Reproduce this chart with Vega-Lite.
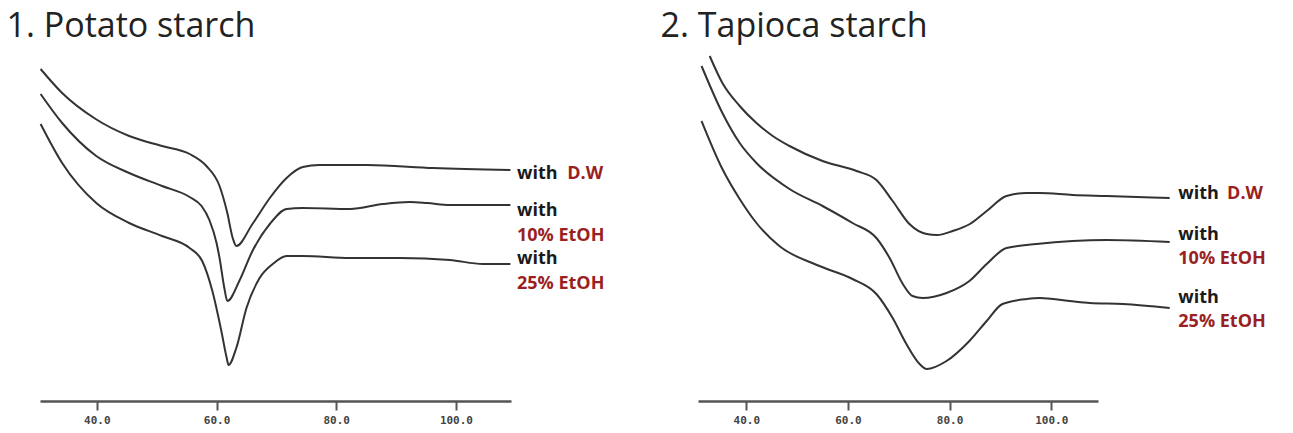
{
  "$schema": "https://vega.github.io/schema/vega-lite/v6.json",
  "autosize": {"type": "pad"},
  "padding": {"left": 6, "top": 10, "right": 0, "bottom": 0},
  "background": "white",
  "config": {
    "view": {"stroke": null},
    "concat": {"spacing": 187},
    "axis": {"grid": false},
    "title": {"font": "Open Sans", "fontSize": 34, "fontWeight": "normal", "color": "#222222", "anchor": "start", "baseline": "alphabetic", "offset": 7}
  },
  "bounds": "flush",
  "datasets": {
    "potato": [
      {"series": "D.W", "temp": 30.6, "signal": 332}, {"series": "D.W", "temp": 34.2, "signal": 308}, {"series": "D.W", "temp": 39.8, "signal": 282}, {"series": "D.W", "temp": 45.4, "signal": 265}, {"series": "D.W", "temp": 50.9, "signal": 255}, {"series": "D.W", "temp": 55.5, "signal": 247}, {"series": "D.W", "temp": 58.3, "signal": 235}, {"series": "D.W", "temp": 60.5, "signal": 215}, {"series": "D.W", "temp": 61.8, "signal": 188}, {"series": "D.W", "temp": 62.7, "signal": 163}, {"series": "D.W", "temp": 63.3, "signal": 155}, {"series": "D.W", "temp": 66.0, "signal": 177}, {"series": "D.W", "temp": 68.9, "signal": 203}, {"series": "D.W", "temp": 71.7, "signal": 223}, {"series": "D.W", "temp": 74.4, "signal": 234}, {"series": "D.W", "temp": 77.2, "signal": 236}, {"series": "D.W", "temp": 85.1, "signal": 236}, {"series": "D.W", "temp": 96.2, "signal": 233}, {"series": "D.W", "temp": 109.1, "signal": 231},
      {"series": "10% EtOH", "temp": 30.6, "signal": 307}, {"series": "10% EtOH", "temp": 34.2, "signal": 278}, {"series": "10% EtOH", "temp": 39.9, "signal": 245}, {"series": "10% EtOH", "temp": 45.4, "signal": 228}, {"series": "10% EtOH", "temp": 50.9, "signal": 215}, {"series": "10% EtOH", "temp": 55.5, "signal": 204}, {"series": "10% EtOH", "temp": 57.5, "signal": 195}, {"series": "10% EtOH", "temp": 58.8, "signal": 181}, {"series": "10% EtOH", "temp": 60.0, "signal": 158}, {"series": "10% EtOH", "temp": 60.5, "signal": 143}, {"series": "10% EtOH", "temp": 61.3, "signal": 113}, {"series": "10% EtOH", "temp": 61.8, "signal": 100}, {"series": "10% EtOH", "temp": 63.8, "signal": 120}, {"series": "10% EtOH", "temp": 66.0, "signal": 150}, {"series": "10% EtOH", "temp": 68.9, "signal": 177}, {"series": "10% EtOH", "temp": 71.7, "signal": 192}, {"series": "10% EtOH", "temp": 74.4, "signal": 193}, {"series": "10% EtOH", "temp": 82.3, "signal": 192}, {"series": "10% EtOH", "temp": 87.8, "signal": 197}, {"series": "10% EtOH", "temp": 92.3, "signal": 199}, {"series": "10% EtOH", "temp": 95.2, "signal": 198}, {"series": "10% EtOH", "temp": 99.0, "signal": 196}, {"series": "10% EtOH", "temp": 109.1, "signal": 196},
      {"series": "25% EtOH", "temp": 30.6, "signal": 277}, {"series": "25% EtOH", "temp": 34.2, "signal": 238}, {"series": "25% EtOH", "temp": 39.9, "signal": 198}, {"series": "25% EtOH", "temp": 45.4, "signal": 178}, {"series": "25% EtOH", "temp": 50.9, "signal": 165}, {"series": "25% EtOH", "temp": 55.5, "signal": 153}, {"series": "25% EtOH", "temp": 57.6, "signal": 140}, {"series": "25% EtOH", "temp": 59.3, "signal": 110}, {"series": "25% EtOH", "temp": 60.8, "signal": 70}, {"series": "25% EtOH", "temp": 61.7, "signal": 43}, {"series": "25% EtOH", "temp": 62.0, "signal": 36}, {"series": "25% EtOH", "temp": 63.3, "signal": 53}, {"series": "25% EtOH", "temp": 65.0, "signal": 93}, {"series": "25% EtOH", "temp": 67.2, "signal": 123}, {"series": "25% EtOH", "temp": 69.4, "signal": 137}, {"series": "25% EtOH", "temp": 71.7, "signal": 145}, {"series": "25% EtOH", "temp": 74.4, "signal": 145}, {"series": "25% EtOH", "temp": 82.3, "signal": 143}, {"series": "25% EtOH", "temp": 90.6, "signal": 143}, {"series": "25% EtOH", "temp": 99.0, "signal": 141}, {"series": "25% EtOH", "temp": 104.5, "signal": 137}, {"series": "25% EtOH", "temp": 109.1, "signal": 137}
    ],
    "tapioca": [
      {"series": "D.W", "temp": 32.8, "signal": 345}, {"series": "D.W", "temp": 35.3, "signal": 318}, {"series": "D.W", "temp": 38.7, "signal": 295}, {"series": "D.W", "temp": 42.0, "signal": 278}, {"series": "D.W", "temp": 45.2, "signal": 265}, {"series": "D.W", "temp": 48.5, "signal": 255}, {"series": "D.W", "temp": 55.0, "signal": 240}, {"series": "D.W", "temp": 61.7, "signal": 230}, {"series": "D.W", "temp": 65.6, "signal": 221}, {"series": "D.W", "temp": 68.8, "signal": 200}, {"series": "D.W", "temp": 72.1, "signal": 177}, {"series": "D.W", "temp": 75.5, "signal": 167}, {"series": "D.W", "temp": 77.5, "signal": 166}, {"series": "D.W", "temp": 80.6, "signal": 170}, {"series": "D.W", "temp": 84.0, "signal": 177}, {"series": "D.W", "temp": 87.3, "signal": 190}, {"series": "D.W", "temp": 91.2, "signal": 205}, {"series": "D.W", "temp": 95.2, "signal": 208}, {"series": "D.W", "temp": 97.7, "signal": 208}, {"series": "D.W", "temp": 104.2, "signal": 206}, {"series": "D.W", "temp": 110.9, "signal": 205}, {"series": "D.W", "temp": 123.3, "signal": 203},
      {"series": "10% EtOH", "temp": 31.2, "signal": 335}, {"series": "10% EtOH", "temp": 35.3, "signal": 288}, {"series": "10% EtOH", "temp": 38.7, "signal": 258}, {"series": "10% EtOH", "temp": 42.0, "signal": 238}, {"series": "10% EtOH", "temp": 48.5, "signal": 212}, {"series": "10% EtOH", "temp": 55.0, "signal": 195}, {"series": "10% EtOH", "temp": 60.9, "signal": 178}, {"series": "10% EtOH", "temp": 65.6, "signal": 163}, {"series": "10% EtOH", "temp": 68.2, "signal": 143}, {"series": "10% EtOH", "temp": 70.8, "signal": 117}, {"series": "10% EtOH", "temp": 72.7, "signal": 105}, {"series": "10% EtOH", "temp": 74.7, "signal": 103}, {"series": "10% EtOH", "temp": 79.4, "signal": 108}, {"series": "10% EtOH", "temp": 83.9, "signal": 120}, {"series": "10% EtOH", "temp": 87.3, "signal": 137}, {"series": "10% EtOH", "temp": 91.2, "signal": 153}, {"series": "10% EtOH", "temp": 97.1, "signal": 157}, {"series": "10% EtOH", "temp": 104.2, "signal": 160}, {"series": "10% EtOH", "temp": 110.9, "signal": 161}, {"series": "10% EtOH", "temp": 123.3, "signal": 159},
      {"series": "25% EtOH", "temp": 31.2, "signal": 280}, {"series": "25% EtOH", "temp": 35.3, "signal": 232}, {"series": "25% EtOH", "temp": 38.7, "signal": 202}, {"series": "25% EtOH", "temp": 42.0, "signal": 178}, {"series": "25% EtOH", "temp": 46.5, "signal": 155}, {"series": "25% EtOH", "temp": 54.4, "signal": 135}, {"series": "25% EtOH", "temp": 60.9, "signal": 122}, {"series": "25% EtOH", "temp": 65.6, "signal": 107}, {"series": "25% EtOH", "temp": 68.8, "signal": 83}, {"series": "25% EtOH", "temp": 71.5, "signal": 57}, {"series": "25% EtOH", "temp": 74.1, "signal": 37}, {"series": "25% EtOH", "temp": 75.5, "signal": 32}, {"series": "25% EtOH", "temp": 79.4, "signal": 40}, {"series": "25% EtOH", "temp": 83.9, "signal": 60}, {"series": "25% EtOH", "temp": 87.3, "signal": 80}, {"series": "25% EtOH", "temp": 90.4, "signal": 97}, {"series": "25% EtOH", "temp": 95.2, "signal": 102}, {"series": "25% EtOH", "temp": 97.7, "signal": 103}, {"series": "25% EtOH", "temp": 103.6, "signal": 100}, {"series": "25% EtOH", "temp": 107.6, "signal": 98}, {"series": "25% EtOH", "temp": 114.1, "signal": 97}, {"series": "25% EtOH", "temp": 123.3, "signal": 93}
    ],
    "potatoLabels": [
      {"text": "with", "part": "with", "temp": 110.2, "signal": 227},
      {"text": "D.W", "part": "medium", "temp": 118.6, "signal": 227},
      {"text": "with", "part": "with", "temp": 110.2, "signal": 190},
      {"text": "10% EtOH", "part": "medium", "temp": 110.2, "signal": 165},
      {"text": "with", "part": "with", "temp": 110.2, "signal": 142},
      {"text": "25% EtOH", "part": "medium", "temp": 110.2, "signal": 117}
    ],
    "tapiocaLabels": [
      {"text": "with", "part": "with", "temp": 125.0, "signal": 207},
      {"text": "D.W", "part": "medium", "temp": 134.6, "signal": 207},
      {"text": "with", "part": "with", "temp": 125.0, "signal": 166},
      {"text": "10% EtOH", "part": "medium", "temp": 125.0, "signal": 142},
      {"text": "with", "part": "with", "temp": 125.0, "signal": 103},
      {"text": "25% EtOH", "part": "medium", "temp": 125.0, "signal": 79}
    ]
  },
  "hconcat": [
    {
      "width": 471,
      "height": 350,
      "title": {"text": "1. Potato starch", "dx": -30},
      "layer": [
        {
          "data": {"name": "potato"},
          "mark": {"type": "line", "interpolate": "monotone", "stroke": "#333333", "strokeWidth": 2},
          "encoding": {
            "x": {"field": "temp", "type": "quantitative", "scale": {"domain": [30.5, 109.2], "nice": false, "zero": false},
              "axis": {"values": [40, 60, 80, 100], "format": ".1f", "title": null, "domainColor": "#555555", "domainWidth": 2.5, "tickColor": "#555555", "tickWidth": 2, "tickSize": 9, "labelFont": "DejaVu Sans Mono", "labelFontWeight": "bold", "labelFontSize": 11, "labelColor": "#444444", "labelPadding": 4}},
            "y": {"field": "signal", "type": "quantitative", "scale": {"domain": [0, 350], "nice": false}, "axis": null},
            "detail": {"field": "series"}
          }
        },
        {
          "data": {"name": "potatoLabels"},
          "mark": {"type": "text", "align": "left", "baseline": "middle", "font": "Open Sans", "fontWeight": "bold", "fontSize": 18},
          "encoding": {
            "x": {"field": "temp", "type": "quantitative"},
            "y": {"field": "signal", "type": "quantitative"},
            "text": {"field": "text"},
            "color": {"field": "part", "type": "nominal", "scale": {"domain": ["with", "medium"], "range": ["#1a1a1a", "#9a1f22"]}, "legend": null}
          }
        }
      ]
    },
    {
      "width": 400,
      "height": 350,
      "title": {"text": "2. Tapioca starch", "dx": -37},
      "layer": [
        {
          "data": {"name": "tapioca"},
          "mark": {"type": "line", "interpolate": "monotone", "stroke": "#333333", "strokeWidth": 2},
          "encoding": {
            "x": {"field": "temp", "type": "quantitative", "scale": {"domain": [30.5, 109.2], "nice": false, "zero": false},
              "axis": {"values": [40, 60, 80, 100], "format": ".1f", "title": null, "domainColor": "#555555", "domainWidth": 2.5, "tickColor": "#555555", "tickWidth": 2, "tickSize": 9, "labelFont": "DejaVu Sans Mono", "labelFontWeight": "bold", "labelFontSize": 11, "labelColor": "#444444", "labelPadding": 4}},
            "y": {"field": "signal", "type": "quantitative", "scale": {"domain": [0, 350], "nice": false}, "axis": null},
            "detail": {"field": "series"}
          }
        },
        {
          "data": {"name": "tapiocaLabels"},
          "mark": {"type": "text", "align": "left", "baseline": "middle", "font": "Open Sans", "fontWeight": "bold", "fontSize": 18},
          "encoding": {
            "x": {"field": "temp", "type": "quantitative"},
            "y": {"field": "signal", "type": "quantitative"},
            "text": {"field": "text"},
            "color": {"field": "part", "type": "nominal", "scale": {"domain": ["with", "medium"], "range": ["#1a1a1a", "#9a1f22"]}, "legend": null}
          }
        }
      ]
    }
  ]
}
